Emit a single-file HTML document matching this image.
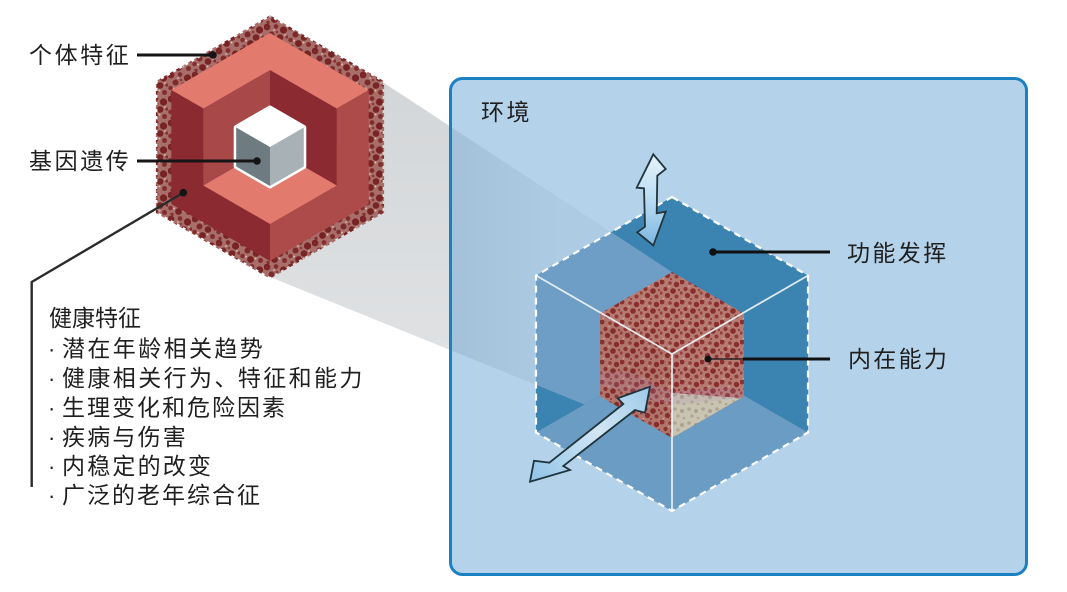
<!DOCTYPE html>
<html>
<head>
<meta charset="utf-8">
<style>
  html,body{margin:0;padding:0;background:#ffffff;}
  svg{display:block;}
  text{font-family:"Liberation Sans","Noto Sans CJK SC",sans-serif;fill:#1f1f1f;}
</style>
</head>
<body>
<svg width="1067" height="592" viewBox="0 0 1067 592" xmlns="http://www.w3.org/2000/svg">
  <defs>
    <pattern id="ring" width="24" height="24" patternUnits="userSpaceOnUse">
      <rect width="24" height="24" fill="#a86f6a"/>
      <circle cx="3" cy="3" r="3.4" fill="#7a2628"/>
      <circle cx="12" cy="2.5" r="2.4" fill="#842e2f"/>
      <circle cx="19.5" cy="6" r="3.6" fill="#772324"/>
      <circle cx="7.5" cy="10.5" r="3" fill="#7e2a2b"/>
      <circle cx="16" cy="13.5" r="3.3" fill="#782526"/>
      <circle cx="2.5" cy="16" r="2.3" fill="#852f30"/>
      <circle cx="10.5" cy="19.5" r="3.4" fill="#772324"/>
      <circle cx="20.5" cy="20.5" r="2.5" fill="#812c2d"/>
      <circle cx="23" cy="13" r="1.6" fill="#843031"/>
      <circle cx="4" cy="22.5" r="1.7" fill="#843031"/>
      <circle cx="13" cy="8" r="1.3" fill="#8e3a39"/>
      <circle cx="6" cy="16.5" r="1" fill="#dcbcb7"/>
      <circle cx="15.5" cy="18.5" r="1" fill="#dcbcb7"/>
      <circle cx="10" cy="6" r="0.9" fill="#dcbcb7"/>
      <circle cx="21" cy="11" r="0.9" fill="#dcbcb7"/>
    </pattern>
    <pattern id="foam" width="20" height="20" patternUnits="userSpaceOnUse">
      <rect width="20" height="20" fill="#b57b72"/>
      <circle cx="2" cy="2" r="2.5" fill="#8c302f"/>
      <circle cx="10" cy="3" r="1.8" fill="#943c39"/>
      <circle cx="16.5" cy="4.5" r="2.7" fill="#892e2d"/>
      <circle cx="5.5" cy="9" r="2.1" fill="#8f3331"/>
      <circle cx="13" cy="11" r="2.8" fill="#872d2c"/>
      <circle cx="1" cy="13" r="1.6" fill="#983f3c"/>
      <circle cx="7.5" cy="15.5" r="2.6" fill="#8a302f"/>
      <circle cx="16.5" cy="16.5" r="2" fill="#933a38"/>
      <circle cx="19" cy="10" r="1.2" fill="#983f3c"/>
      <circle cx="11" cy="19" r="1.1" fill="#983f3c"/>
      <circle cx="9" cy="6.5" r="0.8" fill="#d9b0a8"/>
      <circle cx="3.5" cy="18.5" r="0.8" fill="#d9b0a8"/>
    </pattern>
    <pattern id="foamgray" width="14" height="14" patternUnits="userSpaceOnUse">
      <rect width="14" height="14" fill="#c9c4b2"/>
      <circle cx="3" cy="3" r="1.8" fill="#aca591"/>
      <circle cx="10" cy="5" r="2" fill="#a9a28d"/>
      <circle cx="6" cy="10" r="1.7" fill="#afa994"/>
      <circle cx="12" cy="12" r="1.3" fill="#aca591"/>
    </pattern>
    <linearGradient id="beamG" x1="0" y1="0" x2="0" y2="1">
      <stop offset="0" stop-color="#d3d6d8"/>
      <stop offset="1" stop-color="#e3e5e7"/>
    </linearGradient>
    <linearGradient id="beamIn" x1="450" y1="0" x2="560" y2="0" gradientUnits="userSpaceOnUse">
      <stop offset="0" stop-color="#5f7a90" stop-opacity="0.2"/>
      <stop offset="1" stop-color="#5f7a90" stop-opacity="0.08"/>
    </linearGradient>
    <linearGradient id="arrV" x1="0" y1="0" x2="0" y2="1">
      <stop offset="0" stop-color="#e6f3fb"/>
      <stop offset="0.5" stop-color="#b9dcf2"/>
      <stop offset="1" stop-color="#7db7e0"/>
    </linearGradient>
    <linearGradient id="arrD" x1="650" y1="386" x2="530" y2="482" gradientUnits="userSpaceOnUse">
      <stop offset="0" stop-color="#9cc9e9"/>
      <stop offset="0.45" stop-color="#d2e6f3"/>
      <stop offset="1" stop-color="#8ec3e8"/>
    </linearGradient>
    <clipPath id="boxClip">
      <rect x="452" y="80" width="573" height="493" rx="10"/>
    </clipPath>
  </defs>

  <rect width="1067" height="592" fill="#ffffff"/>

  <!-- projection beam -->
  <polygon points="382.6,82 672,272 672,440 270,277" fill="url(#beamG)"/>

  <!-- environment box -->
  <rect x="450.5" y="78.5" width="576" height="496" rx="12" ry="12" fill="#b4d3eb"/>
  <polygon points="382.6,82 672,272 672,440 270,277" fill="url(#beamIn)" clip-path="url(#boxClip)"/>
  <rect x="450.5" y="78.5" width="576" height="496" rx="12" ry="12" fill="none" stroke="#1b80c2" stroke-width="3"/>

  <!-- left hexagon: individual characteristics -->
  <polygon points="270,17 382.6,82 382.6,212 270,277 157.4,212 157.4,82" fill="url(#ring)"/>
  <polygon points="270,17 382.6,82 382.6,212 270,277 157.4,212 157.4,82" fill="none" stroke="url(#ring)" stroke-width="3" stroke-dasharray="4 3"/>
  <!-- outer cube faces -->
  <polygon points="270,33 171.3,90 270,147 368.7,90" fill="#e27b6d"/>
  <polygon points="171.3,90 270,147 270,261 171.3,204" fill="#8b2a31"/>
  <polygon points="270,147 368.7,90 368.7,204 270,261" fill="#ad4a4a"/>
  <!-- cavity -->
  <polygon points="203.3,108.5 270,70 270,147 203.3,185.5" fill="#a94848"/>
  <polygon points="270,70 336.7,108.5 336.7,185.5 270,147" fill="#8b2a31"/>
  <polygon points="203.3,185.5 270,147 336.7,185.5 270,224" fill="#e27b6d"/>
  <!-- small gene cube -->
  <polygon points="270,108 303.8,127.5 303.8,166.5 270,186 236.2,166.5 236.2,127.5" fill="#ffffff" stroke="#ffffff" stroke-width="5" stroke-linejoin="round"/>
  <polygon points="270,108 236.2,127.5 270,147 303.8,127.5" fill="#ffffff"/>
  <polygon points="236.2,127.5 270,147 270,186 236.2,166.5" fill="#6e7c81"/>
  <polygon points="270,147 303.8,127.5 303.8,166.5 270,186" fill="#a8b1b5"/>

  <!-- dashed functional-ability cube -->
  <polygon points="672,197 808,275.5 808,432.5 672,511 536,432.5 536,275.5" fill="#3b83b1"/>
  <polygon points="536,432.5 672,354 808,432.5 672,511" fill="#6b9cc4"/>
  <polygon points="536,275.5 611.2,232.1 672,272 672,354 584.4,404.5 536,384.9" fill="#6e9ec5"/>

  <!-- intrinsic capacity cube -->
  <polygon points="672,272 600.1,313.5 672,355 743.9,313.5" fill="url(#foam)"/>
  <polygon points="600.1,313.5 672,355 672,438 600.1,396.5" fill="url(#foam)"/>
  <polygon points="672,355 743.9,313.5 743.9,396.5 672,438" fill="url(#foam)"/>
  <polygon points="600.1,313.5 672,355 672,438 600.1,396.5" fill="#6a2020" opacity="0.06"/>
  <polygon points="672,393 741,398 672,438" fill="url(#foamgray)"/>
  <polygon points="630,372 672,392 725,386 743,392 743,398 672,405 600,385 600,372" fill="#b98ab5" opacity="0.18"/>

  <!-- white cube edges -->
  <polyline points="536,275.5 672,354 808,275.5" fill="none" stroke="#eef4f8" stroke-width="1.8" opacity="0.9"/>
  <line x1="672" y1="354" x2="672" y2="511" stroke="#eef4f8" stroke-width="1.8" opacity="0.9"/>

  <!-- dashed outline -->
  <polygon points="672,197 808,275.5 808,432.5 672,511 536,432.5 536,275.5" fill="none" stroke="#ffffff" stroke-width="2.2" stroke-dasharray="7 5"/>

  <!-- arrows -->
  <path d="M653.3,154.3 L665.7,169 L657.3,175.7 L656.7,213.3 L665.7,211.7 L653.3,245.5 L637.3,232.3 L645,226.7 L644,188.3 L636.7,187.7 Z" fill="url(#arrV)" stroke="#22343d" stroke-width="1.8" stroke-linejoin="miter"/>
  <path d="M650,386.7 L617.7,398.3 L623.3,404 L549.3,462.7 L534,460.7 L530,481.7 L570,470 L563.3,466 L635,410 L645,412.7 Z" fill="url(#arrD)" stroke="#1f343d" stroke-width="1.8" stroke-linejoin="miter"/>

  <!-- left annotation lines -->
  <line x1="137" y1="55" x2="213" y2="55" stroke="#151515" stroke-width="3"/>
  <circle cx="213" cy="55" r="3.8" fill="#151515"/>
  <line x1="137" y1="161" x2="257" y2="161" stroke="#151515" stroke-width="3"/>
  <circle cx="257" cy="161" r="3.8" fill="#151515"/>
  <polyline points="183.3,192.7 31.7,282 31.7,487" fill="none" stroke="#2b2b2b" stroke-width="2.4" stroke-linejoin="round"/>
  <circle cx="183.3" cy="192.7" r="3.8" fill="#151515"/>

  <!-- right annotation lines -->
  <line x1="713" y1="252" x2="830" y2="252" stroke="#111" stroke-width="3"/>
  <circle cx="713" cy="252" r="3.8" fill="#111"/>
  <line x1="708" y1="359" x2="744" y2="359" stroke="#111" stroke-width="1.3"/>
  <line x1="743" y1="359" x2="830" y2="359" stroke="#111" stroke-width="3"/>
  <circle cx="708" cy="359" r="3.5" fill="#111"/>

  <!-- labels -->
  <text x="29" y="62.8" font-size="23" letter-spacing="2.6">个体特征</text>
  <text x="29" y="168.8" font-size="23" letter-spacing="2.6">基因遗传</text>
  <text x="481" y="119.8" font-size="23" letter-spacing="2.5">环境</text>
  <text x="847" y="260.8" font-size="23" letter-spacing="2.4">功能发挥</text>
  <text x="848" y="366.8" font-size="23" letter-spacing="2.3">内在能力</text>

  <text x="49" y="325.8" font-size="23" letter-spacing="0">健康特征</text>
  <text x="48" y="356.3" font-size="22">·</text>
  <text x="62" y="356.3" font-size="23" letter-spacing="2.4">潜在年龄相关趋势</text>
  <text x="48" y="385.8" font-size="22">·</text>
  <text x="62" y="385.8" font-size="23" letter-spacing="2.4">健康相关行为、<tspan dx="-2">特征和能力</tspan></text>
  <text x="48" y="415.3" font-size="22">·</text>
  <text x="62" y="415.3" font-size="23" letter-spacing="2.0">生理变化和危险因素</text>
  <text x="48" y="444.8" font-size="22">·</text>
  <text x="62" y="444.8" font-size="23" letter-spacing="2.2">疾病与伤害</text>
  <text x="48" y="473.8" font-size="22">·</text>
  <text x="62" y="473.8" font-size="23" letter-spacing="2.2">内稳定的改变</text>
  <text x="48" y="502.8" font-size="22">·</text>
  <text x="62" y="502.8" font-size="23" letter-spacing="2.0">广泛的老年综合征</text>
</svg>
</body>
</html>
